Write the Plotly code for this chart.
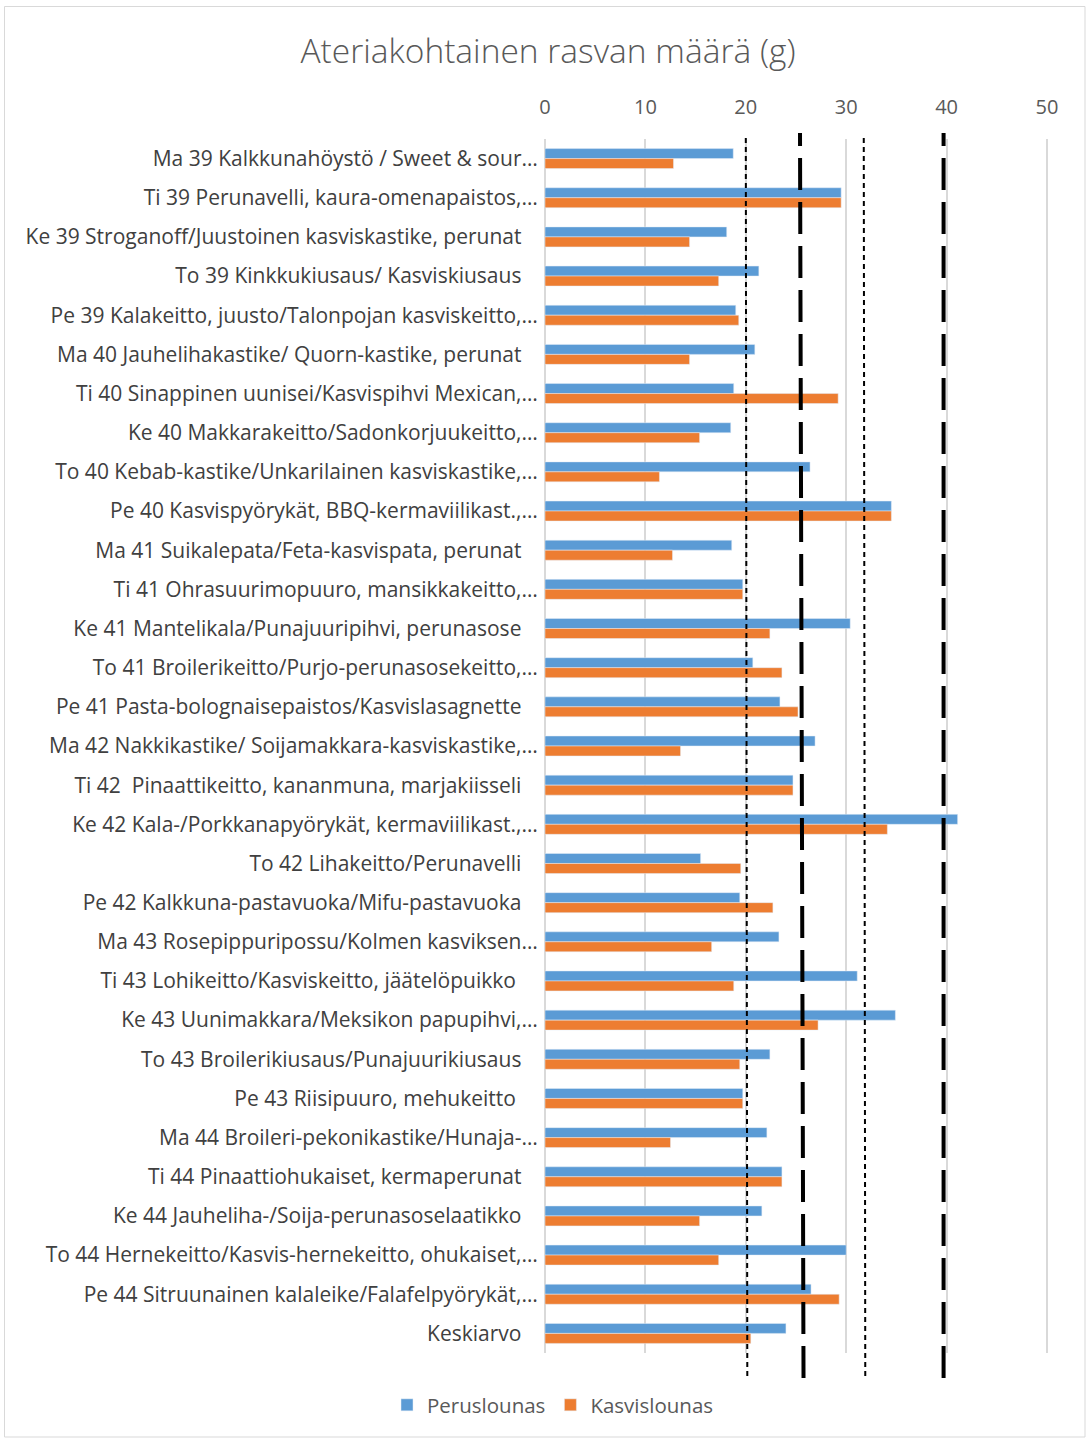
import plotly.graph_objects as go

# Meals (weekday + week number), last row is the average
meals = [
    "Ma 39 Kalkkunahöystö / Sweet & sour…",
    "Ti 39 Perunavelli, kaura-omenapaistos,…",
    "Ke 39 Stroganoff/Juustoinen kasviskastike, perunat",
    "To 39 Kinkkukiusaus/ Kasviskiusaus",
    "Pe 39 Kalakeitto, juusto/Talonpojan kasviskeitto,…",
    "Ma 40 Jauhelihakastike/ Quorn-kastike, perunat",
    "Ti 40 Sinappinen uunisei/Kasvispihvi Mexican,…",
    "Ke 40 Makkarakeitto/Sadonkorjuukeitto,…",
    "To 40 Kebab-kastike/Unkarilainen kasviskastike,…",
    "Pe 40 Kasvispyörykät, BBQ-kermaviilikast.,…",
    "Ma 41 Suikalepata/Feta-kasvispata, perunat",
    "Ti 41 Ohrasuurimopuuro, mansikkakeitto,…",
    "Ke 41 Mantelikala/Punajuuripihvi, perunasose",
    "To 41 Broilerikeitto/Purjo-perunasosekeitto,…",
    "Pe 41 Pasta-bolognaisepaistos/Kasvislasagnette",
    "Ma 42 Nakkikastike/ Soijamakkara-kasviskastike,…",
    "Ti 42\u00a0 Pinaattikeitto, kananmuna, marjakiisseli",
    "Ke 42 Kala-/Porkkanapyörykät, kermaviilikast.,…",
    "To 42 Lihakeitto/Perunavelli",
    "Pe 42 Kalkkuna-pastavuoka/Mifu-pastavuoka",
    "Ma 43 Rosepippuripossu/Kolmen kasviksen…",
    "Ti 43 Lohikeitto/Kasviskeitto, jäätelöpuikko\u00a0",
    "Ke 43 Uunimakkara/Meksikon papupihvi,…",
    "To 43 Broilerikiusaus/Punajuurikiusaus",
    "Pe 43 Riisipuuro, mehukeitto\u00a0",
    "Ma 44 Broileri-pekonikastike/Hunaja-…",
    "Ti 44 Pinaattiohukaiset, kermaperunat",
    "Ke 44 Jauheliha-/Soija-perunasoselaatikko",
    "To 44 Hernekeitto/Kasvis-hernekeitto, ohukaiset,…",
    "Pe 44 Sitruunainen kalaleike/Falafelpyörykät,…",
    "Keskiarvo",
]

# Fat per meal (g)
peruslounas = [18.75, 29.5, 18.1, 21.3, 19.0, 20.9, 18.8, 18.5, 26.4, 34.5,
               18.6, 19.7, 30.4, 20.7, 23.4, 26.9, 24.7, 41.1, 15.5, 19.4,
               23.3, 31.1, 34.9, 22.4, 19.7, 22.1, 23.6, 21.6, 30.0, 26.5,
               24.0]
kasvislounas = [12.8, 29.5, 14.4, 17.3, 19.3, 14.4, 29.2, 15.4, 11.4, 34.5,
                12.7, 19.7, 22.4, 23.6, 25.2, 13.5, 24.7, 34.1, 19.5, 22.7,
                16.6, 18.8, 27.2, 19.4, 19.7, 12.5, 23.6, 15.4, 17.3, 29.3,
                20.5]

# Reference limits (g): value at the top and at the bottom of each line
limit_top = [20.0, 25.4, 31.75, 39.7]
limit_bottom = [20.15, 25.75, 31.9, 39.7]
limit_heavy = [False, True, False, True]

x_ticks = [0, 10, 20, 30, 40, 50]

# Labels without an ellipsis sit a little further left
labels = [m if m.endswith("…") else m + "\u00a0\u00a0\u00a0" for m in meals]

FONT = "Open Sans"
W, H = 1086, 1439
L, R, T, B = 545, 36, 139, 86
plot_w = W - L - R
plot_h = H - T - B

def py(px):
    return (H - B - px) / plot_h

def px_(x):
    return (x - L) / plot_w

fig = go.Figure()
fig.add_trace(go.Bar(
    name="Peruslounas", y=labels, x=peruslounas, orientation="h",
    marker=dict(color="#5B9BD5"),
))
fig.add_trace(go.Bar(
    name="Kasvislounas", y=labels, x=kasvislounas, orientation="h",
    marker=dict(color="#ED7D31"),
))

shapes = []
for top, bottom, heavy in zip(limit_top, limit_bottom, limit_heavy):
    if heavy:
        line = dict(color="black", width=4, dash="32px,12px")
        y0, y1 = py(1378), py(133)
    else:
        line = dict(color="black", width=2, dash="5px,4px")
        y0, y1 = py(1376), py(136)
    shapes.append(dict(type="line", xref="x", yref="paper",
                       x0=bottom, x1=top, y0=y0, y1=y1, line=line, layer="above"))

# outer chart border
shapes.append(dict(type="rect", xref="paper", yref="paper",
                   x0=px_(4.5), x1=px_(1085), y0=py(1437), y1=py(6.5),
                   line=dict(color="#D9D9D9", width=1), layer="below"))

fig.update_layout(
    width=W, height=H,
    margin=dict(l=L, r=R, t=T, b=B),
    paper_bgcolor="white", plot_bgcolor="white",
    barmode="group", bargap=0.49, bargroupgap=0,
    font=dict(family=FONT, color="#595959"),
    title=dict(text="Ateriakohtainen rasvan määrä (g)", x=548 / W, xanchor="center",
               y=1 - 51 / H, yanchor="middle",
               font=dict(family=FONT, size=33.5, color="#595959", weight=300)),
    xaxis=dict(side="top", range=[0, 50.3], tickvals=x_ticks,
               showgrid=True, gridcolor="#D9D9D9", gridwidth=1.5,
               zeroline=True, zerolinecolor="#D9D9D9", zerolinewidth=1.5,
               showline=False, ticks="outside", ticklen=16, tickcolor="rgba(0,0,0,0)",
               tickfont=dict(size=20, color="#595959")),
    yaxis=dict(autorange="reversed", showgrid=False, zeroline=False, showline=False,
               ticks="outside", ticklen=2, tickcolor="rgba(0,0,0,0)",
               tickfont=dict(size=21, color="#404040")),
    legend=dict(orientation="h", x=px_(553), xanchor="center", y=py(1405), yanchor="middle",
                font=dict(size=20.5, color="#595959"), itemwidth=30, traceorder="normal"),
    shapes=shapes,
    showlegend=True,
)

fig.write_html("out.html")
